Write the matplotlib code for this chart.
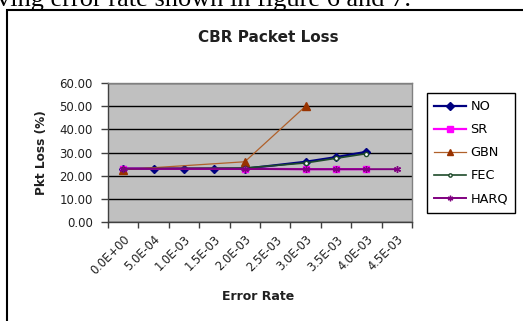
import matplotlib
matplotlib.use('Agg')
import matplotlib.pyplot as plt
import numpy as np
from matplotlib.patches import Rectangle

# --------------------------------------------------------------------------------------------------
# Chart data, blank cells are NaN
categories = ['0.0E+00', '5.0E-04', '1.0E-03', '1.5E-03', '2.0E-03',
              '2.5E-03', '3.0E-03', '3.5E-03', '4.0E-03', '4.5E-03']
nan = np.nan
no_vals   = [23.0, 23.0, 23.0, 23.0, 23.0, nan, 26.0, 28.0, 30.3, nan]
sr_vals   = [23.0, nan, nan, nan, 23.0, nan, 22.8, 22.8, 22.8, nan]
gbn_vals  = [22.6, nan, nan, nan, 26.0, nan, 50.0, nan, nan, nan]
fec_vals  = [23.0, nan, nan, nan, 23.3, nan, 25.5, 27.5, 29.5, nan]
harq_vals = [23.0, nan, nan, nan, 22.9, nan, 22.8, 22.8, 22.8, 22.8]
yticks = [0, 10, 20, 30, 40, 50, 60]

W, H = 523, 321


def fx(x):
    return x / W


def fy(y):
    return 1 - y / H


fig = plt.figure(figsize=(W / 100, H / 100), dpi=100)
fig.patch.set_facecolor('white')

# text of the page above the chart (cut at the top, as in the source)
fig.text(fx(-3), fy(6), 'ving error rate shown in figure 6 and 7.', family='Liberation Serif',
         fontsize=19, ha='left', va='baseline', color='black')

# chart border
fig.patches.append(Rectangle((fx(7), fy(400)), fx(530) - fx(7), fy(10) - fy(400),
                             transform=fig.transFigure, fill=False, edgecolor='black', lw=1.5))

ax = fig.add_axes([fx(108), fy(222), fx(412) - fx(108), fy(83) - fy(222)])
ax.set_facecolor('#C0C0C0')

x = np.arange(len(categories))
series = [
    ('NO', no_vals, '#000080', 'D', 4.5, 1.6, '#000080'),
    ('SR', sr_vals, '#FF00FF', 's', 5, 1.6, '#FF00FF'),
    ('GBN', gbn_vals, '#B0602A', '^', 5.5, 0.9, '#993300'),
    ('FEC', fec_vals, '#1E4A2A', 'o', 3, 1.2, 'white'),
    ('HARQ', harq_vals, '#800080', (6, 2, 0), 5, 1.4, '#800080'),
]
for name, vals, col, mk, ms, lw, mfc in series:
    v = np.array(vals, dtype=float)
    ok = ~np.isnan(v)
    mec = mfc
    if name == 'FEC':
        mec = '#1E4A2A'
    ax.plot(x[ok], v[ok], color=col, lw=lw, marker=mk, ms=ms, mfc=mfc, mec=mec,
            mew=1.0, label=name, zorder=3)

ax.set_xlim(-0.5, len(categories) - 0.5)
ax.set_ylim(0, 60)
ax.set_yticks(yticks)
ax.set_yticklabels(['%.2f' % t for t in yticks])
ax.grid(axis='y', color='black', lw=1.0, zorder=1)
ax.set_axisbelow(True)

ax.set_xticks(x)
ax.set_xticklabels(categories, rotation=45, ha='right', rotation_mode='anchor')
ax.set_xticks(np.arange(len(categories) + 1) - 0.5, minor=True)
ax.tick_params(axis='x', which='major', length=0, pad=8, labelsize=8.3, labelcolor='#202020')
ax.tick_params(axis='x', which='minor', length=4, width=1, color='#404040', direction='out')
ax.tick_params(axis='y', length=5, width=1, color='#404040', direction='out', pad=6,
               labelsize=8.5, labelcolor='#202020')

for s in ['left', 'bottom']:
    ax.spines[s].set_color('#404040')
    ax.spines[s].set_linewidth(1.0)
for s in ['top', 'right']:
    ax.spines[s].set_color('#808080')
    ax.spines[s].set_linewidth(1.0)

fig.text(fx(268), fy(38), 'CBR Packet Loss', fontsize=11, fontweight='bold',
         ha='center', va='center', color='#202020')
fig.text(fx(42), fy(153), 'Pkt Loss (%)', fontsize=8.7, fontweight='bold', rotation=90,
         ha='center', va='center', color='#202020')
fig.text(fx(258), fy(297), 'Error Rate', fontsize=9, fontweight='bold',
         ha='center', va='center', color='#202020')

leg = ax.legend(loc='upper left', bbox_to_anchor=(fx(427), fy(93)), bbox_transform=fig.transFigure,
                fontsize=9.3, frameon=True, fancybox=False, edgecolor='black', facecolor='white',
                framealpha=1, handlelength=2.5, handletextpad=0.3, labelspacing=0.78,
                borderpad=0.55, borderaxespad=0, markerscale=0.8)
leg.get_frame().set_linewidth(1.0)

fig.savefig('out.png', dpi=100, facecolor='white')
